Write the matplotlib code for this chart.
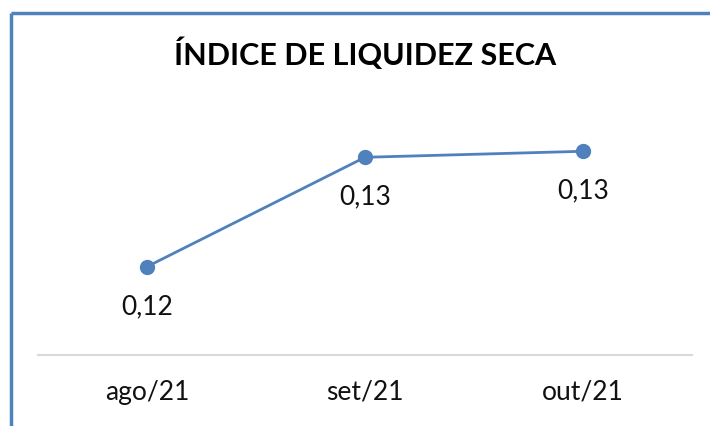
import matplotlib
matplotlib.use("Agg")
import matplotlib.pyplot as plt
from matplotlib.lines import Line2D

# Data
months = ["ago/21", "set/21", "out/21"]
liquidez_seca = [0.1218, 0.1309, 0.1314]

blue = "#4F81BD"

fig = plt.figure(figsize=(7.1, 4.27), dpi=100)
fig.patch.set_facecolor("white")

# outer chart frame (left and top visible)
W, H = 710, 427
fig.add_artist(Line2D([11 / W, 11 / W], [0, 1 - 14 / H], transform=fig.transFigure,
                      color=blue, linewidth=2.5, solid_capstyle="butt"))
fig.add_artist(Line2D([11 / W, 1], [1 - 14 / H, 1 - 14 / H], transform=fig.transFigure,
                      color=blue, linewidth=2.5, solid_capstyle="butt"))

ax = fig.add_axes([38 / W, (H - 356) / H, (692 - 38) / W, (356 - 100) / H])
x = range(len(months))
ax.plot(x, liquidez_seca, color=blue, linewidth=2, marker="o", markersize=10,
        markerfacecolor=blue, markeredgecolor=blue)

for xi, v in zip(x, liquidez_seca):
    ax.annotate(f"{v:.2f}".replace(".", ","), (xi, v), xytext=(0, -28),
                textcoords="offset points", ha="center", va="center",
                fontsize=19, color="#111111", family="Lato")

ax.set_xlim(-0.5, 2.5)
ax.set_ylim(0.11445, 0.13575)
ax.set_xticks(list(x))
ax.set_xticklabels(months, fontsize=19, color="#111111", family="Lato")
ax.tick_params(axis="x", length=0, pad=17)
ax.set_yticks([])
for s in ["top", "left", "right"]:
    ax.spines[s].set_visible(False)
ax.spines["bottom"].set_color("#D9D9D9")
ax.spines["bottom"].set_linewidth(1.5)
ax.set_facecolor("none")

fig.text(365 / W, 1 - 54 / H, "ÍNDICE DE LIQUIDEZ SECA", ha="center", va="center",
         fontsize=22, fontweight="bold", color="black", family="Lato")

fig.savefig("out.png", dpi=100)
